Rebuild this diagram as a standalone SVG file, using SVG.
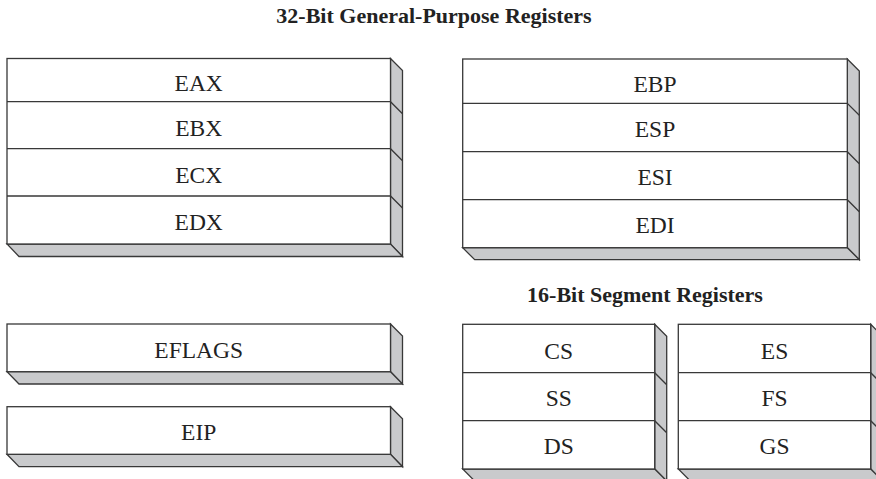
<svg xmlns="http://www.w3.org/2000/svg" width="876" height="479" viewBox="0 0 876 479">
<style>
.front{fill:#ffffff;stroke:#383838;stroke-width:1.3}
.side{fill:#c9cacc;stroke:#383838;stroke-width:1.3;stroke-linejoin:miter}
.div{stroke:#383838;stroke-width:1.3;fill:none}
.lbl{font-family:"Liberation Serif","Times New Roman",serif;font-size:23.5px;fill:#222;text-anchor:middle}
.ttl{font-family:"Liberation Serif","Times New Roman",serif;font-size:22px;font-weight:bold;fill:#222;text-anchor:middle}
</style>
<rect width="876" height="479" fill="#ffffff"/>
<g id="titles">
<text class="ttl" x="434" y="23.3">32-Bit General-Purpose Registers</text>
<text class="ttl" x="645" y="301.7">16-Bit Segment Registers</text>
</g>
<g id="gp-left">
<polygon class="side" points="390.5,58.5 402.5,70.5 402.5,256.5 390.5,244.5"/>
<polygon class="side" points="7,244 390.5,244 402.5,256.5 19,256.5"/>
<rect class="front" x="7" y="58.5" width="383.5" height="185.5"/>
<path class="div" d="M7,101.7H390.5L402.5,113.7M7,148.7H390.5L402.5,160.7M7,196H390.5L402.5,208"/>
<g id="reg-eax"><text class="lbl" x="198.7" y="90.7">EAX</text></g>
<g id="reg-ebx"><text class="lbl" x="198.7" y="136">EBX</text></g>
<g id="reg-ecx"><text class="lbl" x="198.7" y="183.2">ECX</text></g>
<g id="reg-edx"><text class="lbl" x="198.7" y="230.2">EDX</text></g>
</g>
<g id="gp-right">
<polygon class="side" points="847.3,59 859.3,71 859.3,259.7 847.3,247.7"/>
<polygon class="side" points="462.7,247.7 847.3,247.7 859.3,259.7 474.7,259.7"/>
<rect class="front" x="462.7" y="59" width="384.6" height="188.7"/>
<path class="div" d="M462.7,103.3H847.3L859.3,115.3M462.7,151.7H847.3L859.3,163.7M462.7,199.7H847.3L859.3,211.7"/>
<g id="reg-ebp"><text class="lbl" x="655" y="91.7">EBP</text></g>
<g id="reg-esp"><text class="lbl" x="655" y="137.3">ESP</text></g>
<g id="reg-esi"><text class="lbl" x="655" y="185">ESI</text></g>
<g id="reg-edi"><text class="lbl" x="655" y="232.7">EDI</text></g>
</g>
<g id="reg-eflags">
<polygon class="side" points="390.5,324 402.5,336 402.5,384 390.5,371.7"/>
<polygon class="side" points="7,371.7 390.5,371.7 402.5,384 19,384"/>
<rect class="front" x="7" y="324" width="383.5" height="47.7"/>
<text class="lbl" x="198.7" y="358.3">EFLAGS</text>
</g>
<g id="reg-eip">
<polygon class="side" points="390.5,406.7 402.5,418.7 402.5,466.7 390.5,454.3"/>
<polygon class="side" points="7,454.3 390.5,454.3 402.5,466.7 19,466.7"/>
<rect class="front" x="7" y="406.7" width="383.5" height="47.6"/>
<text class="lbl" x="198.7" y="440">EIP</text>
</g>
<g id="seg-left">
<polygon class="side" points="654.7,324.3 666.7,336.3 666.7,481 654.7,469"/>
<polygon class="side" points="462.7,469 654.7,469 666.7,481 474.7,481"/>
<rect class="front" x="462.7" y="324.3" width="192" height="144.7"/>
<path class="div" d="M462.7,372.7H654.7L666.7,384.7M462.7,420.7H654.7L666.7,432.7"/>
<g id="reg-cs"><text class="lbl" x="558.7" y="358.7">CS</text></g>
<g id="reg-ss"><text class="lbl" x="558.7" y="406">SS</text></g>
<g id="reg-ds"><text class="lbl" x="558.7" y="454">DS</text></g>
</g>
<g id="seg-right">
<polygon class="side" points="870.7,324.3 882.7,336.3 882.7,481 870.7,469"/>
<polygon class="side" points="678.3,469 870.7,469 882.7,481 690.3,481"/>
<rect class="front" x="678.3" y="324.3" width="192.4" height="144.7"/>
<path class="div" d="M678.3,372.7H870.7L882.7,384.7M678.3,420.7H870.7L882.7,432.7"/>
<g id="reg-es"><text class="lbl" x="774.5" y="358.7">ES</text></g>
<g id="reg-fs"><text class="lbl" x="774.5" y="406">FS</text></g>
<g id="reg-gs"><text class="lbl" x="774.5" y="454">GS</text></g>
</g>
</svg>
